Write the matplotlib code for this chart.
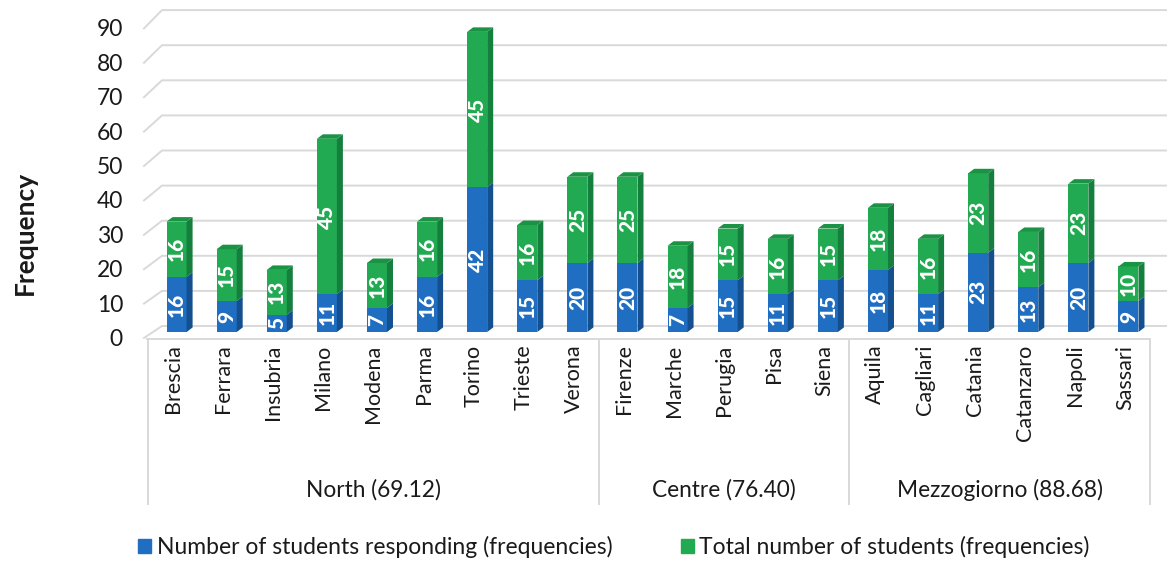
import matplotlib
matplotlib.use("Agg")
import matplotlib.pyplot as plt
from matplotlib.patches import Polygon, Patch
from matplotlib.lines import Line2D

plt.rcParams['font.family'] = ['Lato', 'DejaVu Sans']

# ---------------- data ----------------
universities = ["Brescia", "Ferrara", "Insubria", "Milano", "Modena", "Parma", "Torino",
                "Trieste", "Verona", "Firenze", "Marche", "Perugia", "Pisa", "Siena",
                "Aquila", "Cagliari", "Catania", "Catanzaro", "Napoli", "Sassari"]
responding = [16, 9, 5, 11, 7, 16, 42, 15, 20, 20, 7, 15, 11, 15, 18, 11, 23, 13, 20, 9]
total = [16, 15, 13, 45, 13, 16, 45, 16, 25, 25, 18, 15, 16, 15, 18, 16, 23, 16, 23, 10]
groups = ["North (69.12)", "Centre (76.40)", "Mezzogiorno (88.68)"]
group_sizes = [9, 5, 6]
yticks = [0, 10, 20, 30, 40, 50, 60, 70, 80, 90]
series_names = ["Number of students responding (frequencies)",
                "Total number of students (frequencies)"]

# ---------------- style ----------------
W, H = 1171, 561
blue_front, blue_side = '#1F6EC2', '#14508F'
green_front, green_side, green_top = '#22AA52', '#157F3D', '#1A9444'
grid_col = '#D9D9D9'
txt_col = '#1A1A1A'

fig = plt.figure(figsize=(W / 100, H / 100), dpi=100)

def fx(px):
    return px / W

def fy(py):
    return 1 - py / H

ax_left, ax_right = 148, 1150
ax_bottom, ax_top = 332, 332 - 90 * 3.45
pos = [fx(ax_left), fy(ax_bottom), fx(ax_right) - fx(ax_left), fy(ax_top) - fy(ax_bottom)]

# background gridlines (perspective back wall) in pixel space
for v in yticks:
    gy = 326 - 3.51 * v
    ly = 338 - 3.44 * v
    fig.add_artist(Line2D([fx(144), fx(162), fx(1166)], [fy(ly), fy(gy), fy(gy)],
                          color=grid_col, lw=1.4, transform=fig.transFigure, zorder=0))

# category box
fig.add_artist(Line2D([fx(147), fx(1150)], [fy(339), fy(339)], color=grid_col, lw=1.4,
                      transform=fig.transFigure, zorder=0))

ax = fig.add_axes(pos)
ax.set_xlim(-0.5, len(universities) - 0.5)
ax.set_ylim(0, 90)
ax.patch.set_alpha(0)
for s in ax.spines.values():
    s.set_visible(False)

# ticks axis (labels offset from the bar scale, as in the 3D chart)
lbl0, lblstep = 337.5, 3.44
t_bot, t_top = 350, 12
axt = fig.add_axes([fx(ax_left), fy(t_bot), fx(ax_right) - fx(ax_left), fy(t_top) - fy(t_bot)])
axt.set_ylim((lbl0 - t_bot) / lblstep, (lbl0 - t_top) / lblstep)
axt.patch.set_alpha(0)
for s in axt.spines.values():
    s.set_visible(False)
axt.set_yticks(yticks)
axt.set_yticklabels([str(t) for t in yticks], fontsize=16.5, color=txt_col)
axt.tick_params(axis='y', length=0, pad=18)
axt.set_xticks([])

# bars
bw = 0.40
off = 0.07
dx = 0.12
dy = 4.5 / 3.45
xs = [i + off for i in range(len(universities))]
ax.bar(xs, responding, width=bw, color=blue_front, zorder=3, linewidth=0)
ax.bar(xs, total, width=bw, bottom=responding, color=green_front, zorder=3, linewidth=0)
for x, b, g in zip(xs, responding, total):
    x0, x1 = x - bw / 2, x + bw / 2
    ax.add_patch(Polygon([(x1, 0), (x1 + dx, dy), (x1 + dx, b + dy), (x1, b)],
                         closed=True, color=blue_side, lw=0, zorder=3))
    ax.add_patch(Polygon([(x1, b), (x1 + dx, b + dy), (x1 + dx, b + g + dy), (x1, b + g)],
                         closed=True, color=green_side, lw=0, zorder=3))
    ax.add_patch(Polygon([(x0, b + g), (x1, b + g), (x1 + dx, b + g + dy), (x0 + dx, b + g + dy)],
                         closed=True, color=green_top, lw=0, zorder=3))
    ax.text(x, b / 2, str(b), rotation=90, ha='center', va='center', color='white',
            fontsize=15, fontweight='black', zorder=4)
    ax.text(x, b + g / 2, str(g), rotation=90, ha='center', va='center', color='white',
            fontsize=15, fontweight='black', zorder=4)

ax.set_yticks([])
ax.set_xticks(range(len(universities)))
ax.set_xticklabels(universities, rotation=90, fontsize=15.5, color=txt_col, va='top')
ax.tick_params(axis='x', length=0, pad=9)

# group separators and labels
edges = [-0.5]
for n in group_sizes:
    edges.append(edges[-1] + n)
for e in edges:
    xpx = ax_left + (e + 0.5) * (ax_right - ax_left) / len(universities)
    fig.add_artist(Line2D([fx(xpx), fx(xpx)], [fy(339), fy(504)], color=grid_col, lw=1.4,
                          transform=fig.transFigure, zorder=0))
for gname, a, b in zip(groups, edges[:-1], edges[1:]):
    c = (a + b) / 2
    xpx = ax_left + (c + 0.5) * (ax_right - ax_left) / len(universities)
    fig.text(fx(xpx), fy(490), gname, ha='center', va='center', fontsize=16.3, color=txt_col)

# y label
fig.text(fx(25), fy(233), 'Frequency', rotation=90, ha='center', va='center',
         fontsize=19, fontweight='bold', color=txt_col)

# legend
handles = [Patch(color=blue_front), Patch(color=green_front)]
fig.legend(handles, series_names, loc='center', bbox_to_anchor=(fx(614), fy(547)), ncol=2,
           frameon=False, fontsize=16.5, handlelength=0.55, handleheight=0.55,
           handletextpad=0.25, columnspacing=3.0, labelcolor=txt_col)

fig.savefig('out.png', dpi=100)
